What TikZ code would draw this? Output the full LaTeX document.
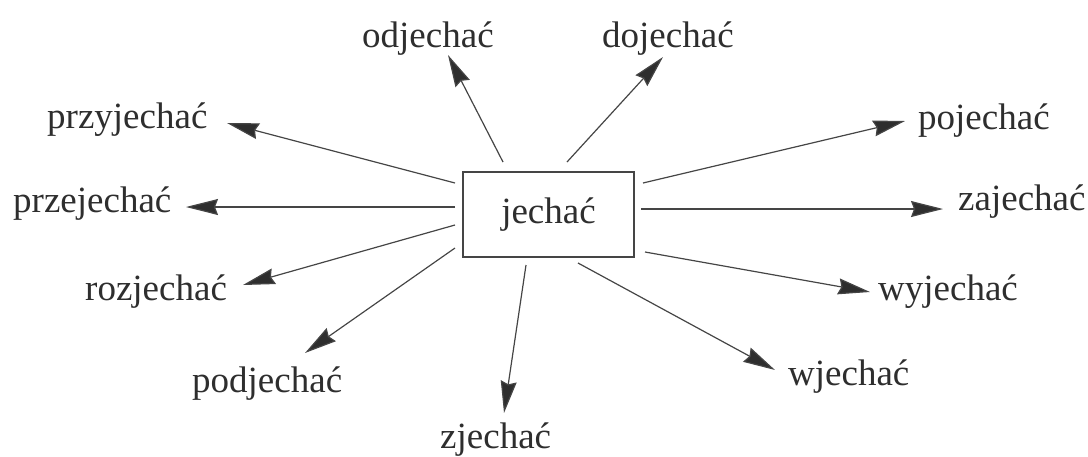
\documentclass[tikz,border=0pt]{standalone}
\usepackage{fontspec}
\setmainfont{Liberation Serif}
\usetikzlibrary{arrows.meta}
\definecolor{ink}{HTML}{2E2E2E}
\definecolor{linec}{HTML}{454545}
\tikzset{
  lbl/.style={anchor=base west, inner sep=0pt, text=ink, font=\fontsize{37}{40}\selectfont},
  centerbox/.style={draw=linec, line width=1.3pt, minimum width=171pt, minimum height=85pt, inner sep=0pt, text=ink, font=\fontsize{37}{40}\selectfont},
  arr/.style={draw=linec, line width=1.2pt, -{Stealth[length=32pt 0,width=16pt 0,inset=3pt,fill=ink]}}
}
\begin{document}
\begin{tikzpicture}[x=1pt,y=-1pt]
\useasboundingbox (0,0) rectangle (1088,456);
\node[centerbox] (box) at (548.5,214.5) {jechać};
\node[lbl] (odj) at (362,47) {odjechać};
\node[lbl] (doj) at (602,47) {dojechać};
\node[lbl] (przyj) at (47,128) {przyjechać};
\node[lbl] (przej) at (13,212) {przejechać};
\node[lbl] (poj) at (918,129) {pojechać};
\node[lbl] (zaj) at (958,210) {zajechać};
\node[lbl] (roz) at (85,300) {rozjechać};
\node[lbl] (pod) at (192,392) {podjechać};
\node[lbl] (zje) at (440,448) {zjechać};
\node[lbl] (wje) at (788,385) {wjechać};
\node[lbl] (wyj) at (878,300) {wyjechać};
% arrow start points near the box and tips near labels
\coordinate (s1) at (503,162);  \coordinate (t1) at (448,55);
\coordinate (s2) at (567,162);  \coordinate (t2) at (663,57);
\coordinate (s3) at (455,183);  \coordinate (t3) at (227,123);
\coordinate (s4) at (455,207);  \coordinate (t4) at (186,207);
\coordinate (s5) at (643,183);  \coordinate (t5) at (905,121);
\coordinate (s6) at (641,209);  \coordinate (t6) at (943,209);
\coordinate (s7) at (455,225);  \coordinate (t7) at (243,285);
\coordinate (s8) at (455,248);  \coordinate (t8) at (305,353);
\coordinate (s9) at (526,265);  \coordinate (t9) at (504,413);
\coordinate (s10) at (578,263); \coordinate (t10) at (775,370);
\coordinate (s11) at (645,252); \coordinate (t11) at (870,292);
\draw[arr] (s1) -- (t1);
\draw[arr] (s2) -- (t2);
\draw[arr] (s3) -- (t3);
\draw[arr] (s4) -- (t4);
\draw[arr] (s5) -- (t5);
\draw[arr] (s6) -- (t6);
\draw[arr] (s7) -- (t7);
\draw[arr] (s8) -- (t8);
\draw[arr] (s9) -- (t9);
\draw[arr] (s10) -- (t10);
\draw[arr] (s11) -- (t11);
\end{tikzpicture}
\end{document}
